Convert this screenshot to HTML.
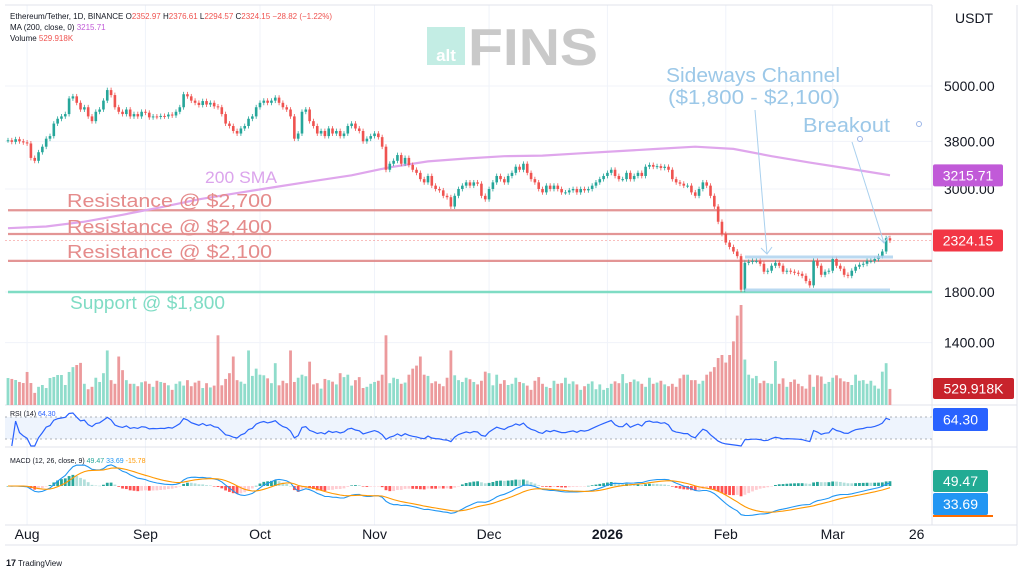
<!DOCTYPE html>
<html><head><meta charset="utf-8"><style>
html,body{margin:0;padding:0;background:#fff;}
svg{display:block;font-family:"Liberation Sans",sans-serif;}
</style></head><body>
<svg id="chart" width="1024" height="573" viewBox="0 0 1024 573" xmlns="http://www.w3.org/2000/svg">
<rect x="0" y="0" width="1024" height="573" fill="#fff"/>
<g id="grid"></g>
<g id="watermark">
  <rect x="427" y="27" width="38" height="38" fill="#c3ede4"/>
  <text x="446" y="61" font-size="17" font-weight="bold" fill="#fff" text-anchor="middle">alt</text>
  <text x="468" y="65" font-size="52" font-weight="bold" fill="#c9c9c9" textLength="130" lengthAdjust="spacingAndGlyphs">FINS</text>
</g>
<g id="levels"></g>
<g id="volume"></g>
<g id="sma"></g>
<g id="candles"></g>
<g id="annot"></g>
<g id="rsi"></g>
<g id="macd"></g>
<g id="axis"></g>
<g id="xaxis"></g>
<g font-size="8">
  <text x="10" y="19" fill="#131722">Ethereum/Tether, 1D, BINANCE  O<tspan fill="#ef5350">2352.97</tspan> H<tspan fill="#ef5350">2376.61</tspan> L<tspan fill="#ef5350">2294.57</tspan> C<tspan fill="#ef5350">2324.15</tspan> <tspan fill="#ef5350">−28.82 (−1.22%)</tspan></text>
  <text x="10" y="30" fill="#131722">MA (200, close, 0) <tspan fill="#c15ad8">3215.71</tspan></text>
  <text x="10" y="41" fill="#131722">Volume <tspan fill="#ef5350">529.918K</tspan></text>
  <text x="10" y="416" fill="#131722" font-size="7">RSI (14) <tspan fill="#2962ff">64.30</tspan></text>
  <text x="10" y="463" fill="#131722" font-size="7">MACD (12, 26, close, 9) <tspan fill="#26a69a">49.47</tspan> <tspan fill="#2196f3">33.69</tspan> <tspan fill="#ff9800">-15.78</tspan></text>
</g>
<text x="955" y="23" font-size="14" fill="#131722">USDT</text>
<g>
  <text x="6" y="566" font-size="9" font-weight="bold" fill="#131722">17</text>
  <text x="18" y="566" font-size="8" fill="#131722">TradingView</text>
</g>
</svg>
<script>
const closes = [3820,3790,3840,3800,3780,3760,3500,3450,3600,3700,3850,3900,4150,4250,4300,4350,4700,4750,4600,4450,4500,4300,4200,4400,4450,4650,4900,4780,4500,4400,
4350,4450,4300,4350,4300,4400,4380,4280,4300,4290,4310,4300,4340,4320,4400,4500,4800,4750,4650,4600,4550,4640,4560,4600,4520,4500,4350,4150,4100,
4000,3950,4050,4100,4250,4300,4500,4600,4650,4600,4650,4720,4600,4500,4450,4300,3850,3950,4400,4450,4200,4100,3950,4000,3900,4050,3950,4000,3900,
3950,4100,4150,4050,4000,3800,3850,3900,3950,3880,3700,3300,3400,3450,3550,3400,3500,3380,3300,3250,3150,3100,3200,3050,3000,2980,2900,2880,2750,2900,
3000,3050,3100,3050,3100,3080,2900,2850,3000,3100,3200,3150,3100,3200,3250,3350,3300,3400,3250,3150,3100,3000,2950,3050,3000,3050,3000,2950,
2950,2980,3000,2950,3000,2980,3000,3050,3100,3150,3200,3250,3300,3200,3150,3150,3250,3150,3200,3250,3200,3350,3380,3350,3360,3330,3350,
3300,3150,3100,3080,3050,3050,2950,2900,3000,3100,3050,2900,2750,2550,2400,2300,2250,2200,2150,1820,2080,2090,2100,2100,2070,1990,
2000,2050,2080,2050,1990,2000,1990,1980,1970,1950,1900,1860,2100,2050,1960,1990,2000,2120,2050,2020,1960,1950,2000,2040,2060,2070,2100,
2100,2120,2150,2200,2350,2324];
const volumes = [890,860,825,760,725,1090,725,400,600,660,560,890,925,990,990,660,1090,1250,1320,1390,
700,520,600,900,760,1050,1800,820,700,1600,1150,820,700,700,620,750,780,700,600,800,
760,730,650,500,700,780,640,820,620,740,800,560,720,580,640,2300,650,860,1050,1600,
820,770,700,1800,960,1200,1000,980,880,720,1380,650,800,720,1800,760,900,1000,950,1430,
680,720,540,860,820,770,680,1050,920,1000,640,820,920,560,600,700,760,800,1000,2300,
720,900,860,700,740,1000,1200,1300,1600,1000,960,720,780,700,620,900,1800,980,820,760,
900,850,760,680,800,1100,1050,650,1000,700,820,660,700,900,760,720,640,500,800,920,
700,600,560,800,700,720,900,700,780,680,500,620,700,780,520,680,500,560,700,780,
720,1020,720,760,840,780,700,600,900,700,740,800,680,620,700,600,880,1000,1000,820,
820,700,800,1000,1100,1250,1550,1650,1400,1650,2100,2950,3300,1500,1000,880,960,720,800,720,
700,1450,700,880,600,760,840,700,620,540,1000,600,980,940,700,760,900,980,880,780,
760,660,1000,800,820,700,800,640,540,1100,1380,530];
const smaIdx = [0,10,20,30,40,50,60,70,80,90,100,110,120,130,140,150,160,170,180,190,200,210,220,231];
const smaVals = [2470,2490,2550,2640,2740,2850,2940,3030,3120,3210,3340,3440,3490,3530,3540,3580,3620,3660,3700,3660,3530,3420,3320,3210];
const priceTicks = [5000,3800,3000,1800,1400];
const monthLabels = ["Aug","Sep","Oct","Nov","Dec","2026","Feb","Mar","26"];
const monthIdx = [5,36,66,96,126,157,188,216,238];
const levels = [2700,2400,2100];
const supportLevel = 1800;

const NS="http://www.w3.org/2000/svg";
function el(parent,tag,attrs){const e=document.createElementNS(NS,tag);for(const k in attrs)e.setAttribute(k,attrs[k]);parent.appendChild(e);return e;}
const X0=8, DX=3.818;
const xOf=i=>X0+i*DX;
const yP=p=>86+(Math.log(5000)-Math.log(p))*201.6;
const yV=v=>405-v/33;
const yR=r=>417+(70-r)*0.55;
const yM=m=>486-m*0.1;
const g=id=>document.getElementById(id);

// grid
const grid=g('grid');
monthIdx.forEach((mi,k)=>{if(k<8){const l=el(grid,'line',{x1:xOf(mi),x2:xOf(mi),y1:5,y2:525,stroke:'#f0f3fa','stroke-width':1});

}});
priceTicks.forEach(p=>{const l=el(grid,'line',{x1:5,x2:932,y1:yP(p),y2:yP(p),stroke:'#f0f3fa'});

});
[[5,5,932,5],[932,5,932,525],[5,405,1017,405],[5,447,1017,447],[5,525,1017,525],[1017,5,1017,545],[5,545,1017,545]].forEach(a=>{
const l=el(grid,'line',{x1:a[0],y1:a[1],x2:a[2],y2:a[3],stroke:'#e0e3eb'});

});

// levels
const lv=g('levels');
levels.forEach(p=>{const l=el(lv,'line',{x1:8,x2:932,y1:yP(p),y2:yP(p),stroke:'#e08a8a','stroke-width':2.2,opacity:0.9});

});
{const l=el(lv,'line',{x1:8,x2:932,y1:yP(supportLevel),y2:yP(supportLevel),stroke:'#7fdcc4','stroke-width':2.5});

}
{const l=el(lv,'line',{x1:5,x2:932,y1:yP(closes[closes.length-1]),y2:yP(closes[closes.length-1]),stroke:'#ef5350','stroke-width':0.7,'stroke-dasharray':'2,2',opacity:0.6});

}

// volume
const vg=g('volume');
volumes.forEach((v,i)=>{const o=i?closes[i-1]:closes[i];const up=closes[i]>=o;
const r=el(vg,'rect',{x:xOf(i)-1.4,y:yV(v),width:2.8,height:405-yV(v),fill:up?'#8fdccb':'#ec9a9c'});

});

// sma
{let d='';smaIdx.forEach((ix,k)=>{d+=(k?'L':'M')+xOf(ix).toFixed(1)+' '+yP(smaVals[k]).toFixed(1);});
const p=el(g('sma'),'path',{d:d,fill:'none',stroke:'#dfa6ec','stroke-width':2.2});

}

// candles
const cg=g('candles');
closes.forEach((c,i)=>{const o=i?closes[i-1]:c;const up=c>=o;const col=up?'#26a69a':'#ef5350';
const hi=Math.max(o,c)*1.012, lo=Math.min(o,c)*0.988;
const w=el(cg,'line',{x1:xOf(i),x2:xOf(i),y1:yP(hi),y2:yP(lo),stroke:col,'stroke-width':0.8});


const t=Math.min(yP(o),yP(c));const h=Math.max(1,Math.abs(yP(o)-yP(c)));
const b=el(cg,'rect',{x:xOf(i)-1.3,y:t,width:2.6,height:h,fill:col});

});

// annotations
const an=g('annot');
function txt(parent,x,y,s,size,fill,name,len){const t=el(parent,'text',{x:x,y:y,'font-size':size,fill:fill});t.textContent=s;
if(len){t.setAttribute('textLength',len);t.setAttribute('lengthAdjust','spacingAndGlyphs');}

return t;}
txt(an,67,207,'Resistance @ $2,700',18,'#e58b8b','resistance-2700-label',205);
txt(an,67,233,'Resistance @ $2,400',18,'#e58b8b','resistance-2400-label',205);
txt(an,67,258,'Resistance @ $2,100',18,'#e58b8b','resistance-2100-label',205);
txt(an,70,309,'Support @ $1,800',18,'#7fdcc4','support-label',155);
txt(an,205,183,'200 SMA',17,'#dba4ec','sma-label',72);
txt(an,666,82,'Sideways Channel',20,'#9cc8e8','channel-label-1',174);
txt(an,668,104,'($1,800 - $2,100)',20,'#9cc8e8','channel-label-2',172);
txt(an,803,132,'Breakout',20,'#9cc8e8','breakout-label',87);
[[745,257,893,257],[745,290,890,290]].forEach(a=>{const l=el(an,'line',{x1:a[0],y1:a[1],x2:a[2],y2:a[3],stroke:'#a9d0ee','stroke-width':3,opacity:0.8});

});
[[755,110,767,254],[852,142,884,243]].forEach(a=>{const l=el(an,'line',{x1:a[0],y1:a[1],x2:a[2],y2:a[3],stroke:'#a9d0ee','stroke-width':1});


const h=el(an,'path',{d:`M${a[2]-6} ${a[3]-6} L${a[2]} ${a[3]} L${a[2]+5} ${a[3]-7}`,fill:'none',stroke:'#a9d0ee','stroke-width':1});

});
[[860,139],[919,124]].forEach(a=>{const c=el(an,'circle',{cx:a[0],cy:a[1],r:2.5,fill:'none',stroke:'#9cb6e8','stroke-width':1});

});

// RSI
const rg=g('rsi');
{const r=el(rg,'rect',{x:5,y:yR(70),width:927,height:yR(30)-yR(70),fill:'#eef4fd'});


[70,30].forEach(v=>{const l=el(rg,'line',{x1:5,x2:932,y1:yR(v),y2:yR(v),stroke:'#9598a1','stroke-width':0.7,'stroke-dasharray':'2,3'});

});}
const rsi=[];{let ag=0,al=0;for(let i=1;i<closes.length;i++){const d=closes[i]-closes[i-1];const gn=Math.max(d,0),ls=Math.max(-d,0);
if(i<=14){ag+=gn/14;al+=ls/14;}else{ag=(ag*13+gn)/14;al=(al*13+ls)/14;}
rsi[i]=al===0?100:100-100/(1+ag/al);}}
{let d='';for(let i=1;i<closes.length;i++){d+=(i>1?'L':'M')+xOf(i).toFixed(1)+' '+Math.max(409,Math.min(446,yR(rsi[i]))).toFixed(1);}
const p=el(rg,'path',{d:d,fill:'none',stroke:'#2962ff','stroke-width':1.2});

}

// MACD
const mg=g('macd');
function ema(arr,n){const k=2/(n+1);const out=[];arr.forEach((v,i)=>{out[i]=i?v*k+out[i-1]*(1-k):v;});return out;}
const e12=ema(closes,12),e26=ema(closes,26);const macd=closes.map((c,i)=>e12[i]-e26[i]);const sig=ema(macd,9);
macd.forEach((m,i)=>{const h=m-sig[i];const prev=i?macd[i-1]-sig[i-1]:h;
const col=h>=0?(h>=prev?'#26a69a':'#b2dfdb'):(h<=prev?'#ff5252':'#ffcdd2');
const y=yM(Math.max(h,0)),hh=Math.abs(yM(h)-yM(0));
const r=el(mg,'rect',{x:xOf(i)-1.4,y:y,width:2.8,height:Math.max(0.5,hh),fill:col});

});
[[macd,'#2196f3','macd-line'],[sig,'#ff9800','signal-line']].forEach(s=>{let d='';s[0].forEach((v,i)=>{d+=(i?'L':'M')+xOf(i).toFixed(1)+' '+Math.max(449,Math.min(523,yM(v))).toFixed(1);});
const p=el(mg,'path',{d:d,fill:'none',stroke:s[1],'stroke-width':1.1});

});

// price axis
const ax=g('axis');
priceTicks.forEach(p=>{txt(ax,944,yP(p)+5,p.toFixed(2),14,'#131722','price-tick');});
function tag(y,h,w,fill,s,name){const r=el(ax,'rect',{x:933,y:y,width:w,height:h,fill:fill,rx:2});


const t=txt(ax,933+w/2,y+h/2+5,s,14,'#fff',name+'-value');t.setAttribute('text-anchor','middle');}
tag(yP(smaVals[smaVals.length-1])-11,22,70,'#c15ad8','3215.71','sma');
tag(yP(closes[closes.length-1])-11,22,70,'#f23645','2324.15','last-price');
tag(378,21,81,'#c8232c','529.918K','volume');
tag(408,23,55,'#2962ff','64.30','rsi');
tag(470,22,55,'#22ab94','49.47','macd-hist');
tag(493,22,55,'#2196f3','33.69','macd');
{const l=el(ax,'line',{x1:933,x2:993,y1:516,y2:516,stroke:'#ff6d00','stroke-width':2});

}

// time axis
const xa=g('xaxis');
monthLabels.forEach((m,k)=>{const t=txt(xa,xOf(monthIdx[k]),539,m,14,'#131722','month-label');t.setAttribute('text-anchor','middle');if(m==='2026')t.setAttribute('font-weight','bold');});
</script>
</body></html>
